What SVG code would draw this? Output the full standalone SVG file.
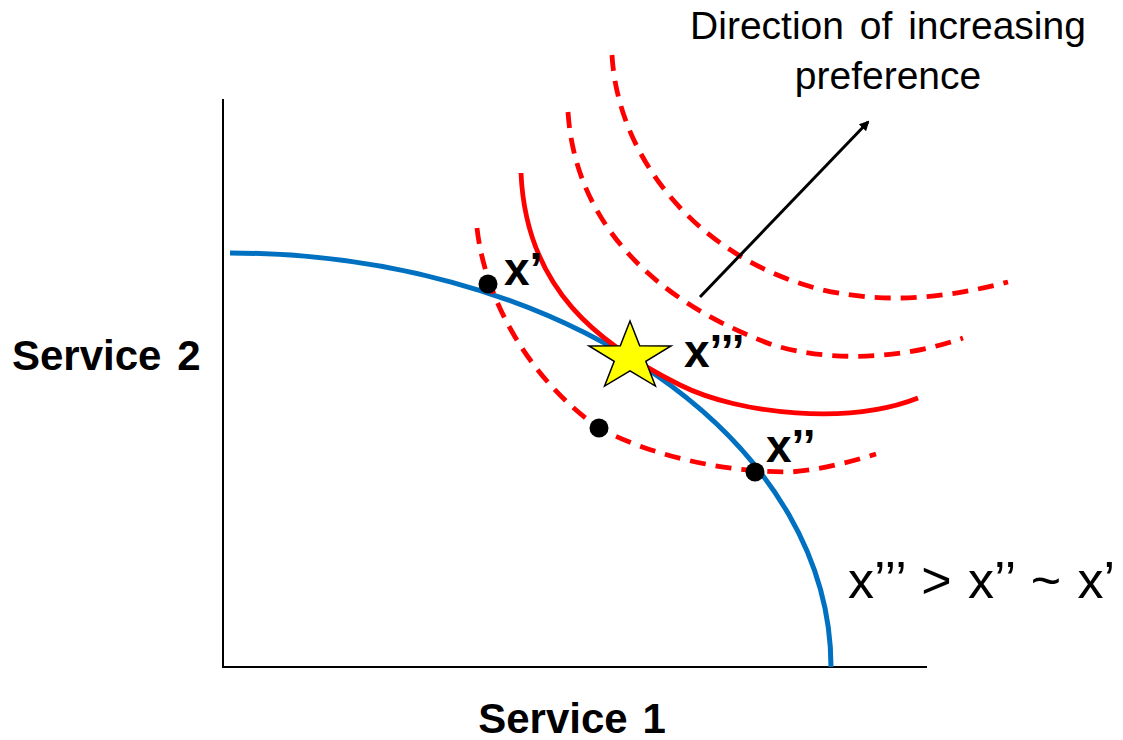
<svg xmlns="http://www.w3.org/2000/svg" width="1123" height="740" viewBox="0 0 1123 740">
<style>
.ax{stroke:#000;stroke-width:2;fill:none}
.ppf{stroke:#0070C0;stroke-width:5;fill:none}
.ic{stroke:#FF0000;stroke-width:4.8;fill:none}
.dash{stroke-dasharray:16 10}
.dot{fill:#000}
.lbl{font-family:"Liberation Sans",Arial,sans-serif;fill:#000}
.b{font-weight:bold}
</style>
<defs>
<marker id="ah" markerWidth="10" markerHeight="10" refX="8" refY="5" orient="auto" markerUnits="userSpaceOnUse" viewBox="0 0 10 10">
<path d="M0,0 L10,5 L0,10 z" fill="#000"/>
</marker>
</defs>
<rect width="1123" height="740" fill="#fff"/>
<g id="axes">
<line class="ax" x1="223" y1="99" x2="223" y2="668"/>
<line class="ax" x1="222" y1="667" x2="927" y2="667"/>
</g>
<g id="connectors">
<path id="frontier" class="ppf" d="M230,253 A601,414 0 0 1 831,667"/>
<path id="ic1" class="ic dash" d="M477,228 C485,300 530,380 599,428 C650,455 720,472 790,472 C820,470 850,462 876,454"/>
<path id="ic2" class="ic" d="M521,173 C526,290 600,345 680,385 C740,415 850,425 918,398"/>
<path id="ic3" class="ic dash" d="M568,112 C575,220 650,300 773,345 C830,362 900,360 963,338"/>
<path id="ic4" class="ic dash" d="M612,55 C618,160 700,260 823,290 C890,305 950,297 1008,282"/>
<line id="arrow" x1="700" y1="297" x2="868" y2="122" stroke="#000" stroke-width="3" marker-end="url(#ah)"/>
</g>
<g id="point-x1">
<circle class="dot" cx="488" cy="284" r="9.5"/>
<text class="lbl b" x="504" y="285" font-size="46">x’</text>
</g>
<g id="point-mid">
<circle class="dot" cx="599" cy="428" r="9.5"/>
</g>
<g id="point-x2">
<circle class="dot" cx="755" cy="472" r="9.5"/>
<text class="lbl b" x="766" y="462" font-size="46">x’’</text>
</g>
<g id="point-x3">
<polygon points="630,321 639.7,345.8 671,345.9 645.8,361.3 655.4,386.1 630,370.8 604.6,386.1 614.2,361.3 589,345.9 620.3,345.8" fill="#FFFF00" stroke="#000" stroke-width="1.5" stroke-linejoin="miter"/>
<text class="lbl b" x="684" y="367" font-size="46">x’’’</text>
</g>
<g id="labels">
<text class="lbl" x="888" y="39" font-size="39" text-anchor="middle" word-spacing="5">Direction of increasing</text>
<text class="lbl" x="888" y="89" font-size="39" text-anchor="middle">preference</text>
<text class="lbl b" x="12" y="370" font-size="42" word-spacing="4">Service 2</text>
<text class="lbl b" x="572" y="733" font-size="42" text-anchor="middle" word-spacing="3">Service 1</text>
<text class="lbl" x="848" y="598" font-size="52" word-spacing="2">x’’’ &gt; x’’ ~ x’</text>
</g>
</svg>
